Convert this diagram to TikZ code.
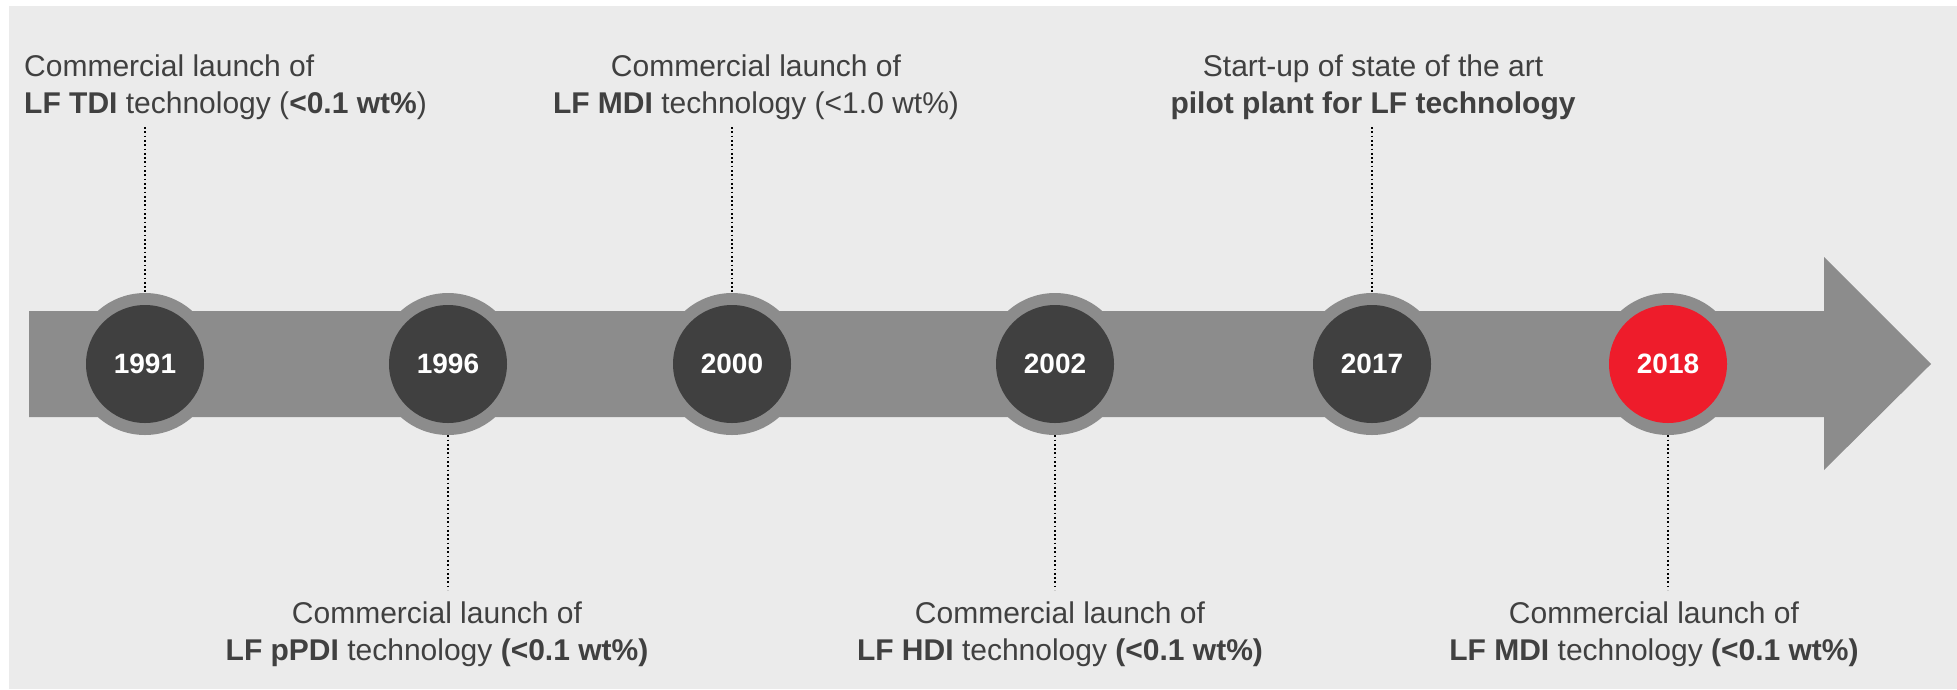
\documentclass[tikz,border=0pt]{standalone}
\usepackage{fontspec}
\setmainfont{Liberation Sans}
\definecolor{bgc}{HTML}{EBEBEB}
\definecolor{barc}{HTML}{8C8C8C}
\definecolor{darkc}{HTML}{404040}
\definecolor{redc}{HTML}{EE1C2B}
\definecolor{txtc}{HTML}{404040}
\begin{document}
\begin{tikzpicture}[x=1pt,y=-1pt,
  ring/.style={circle,fill=barc,minimum size=142pt,inner sep=0pt},
  yearc/.style={circle,fill=darkc,minimum size=118pt,inner sep=0pt,text=white,font=\fontsize{28}{30}\selectfont\bfseries},
  lbl/.style={text=txtc,font=\fontsize{30}{36.5}\selectfont,inner sep=0pt},
  dotline/.style={line width=1.7pt,dash pattern=on 1.7pt off 2.6pt,color=black}
]
\useasboundingbox (0,0) rectangle (1957,689);
\fill[bgc] (9,6) rectangle (1957,689);
% arrow
\fill[barc] (29,311) -- (1824,311) -- (1824,257) -- (1931,364) -- (1824,470) -- (1824,417) -- (29,417) -- cycle;
% circles
\node[ring] (r1) at (145,364) {};
\node[ring] (r2) at (448,364) {};
\node[ring] (r3) at (732,364) {};
\node[ring] (r4) at (1055,364) {};
\node[ring] (r5) at (1372,364) {};
\node[ring] (r6) at (1668,364) {};
\node[yearc] (y1) at (r1) {1991};
\node[yearc] (y2) at (r2) {1996};
\node[yearc] (y3) at (r3) {2000};
\node[yearc] (y4) at (r4) {2002};
\node[yearc] (y5) at (r5) {2017};
\node[yearc,fill=redc] (y6) at (r6) {2018};
% labels (base anchor = baseline of the last line)
\node[lbl,anchor=base west,align=left] (t1) at (24,113) {Commercial launch of\\\textbf{LF TDI} technology (\textbf{<0.1 wt\%})};
\node[lbl,anchor=base,align=center] (t3) at (756,113) {Commercial launch of\\\textbf{LF MDI} technology (<1.0 wt\%)};
\node[lbl,anchor=base,align=center] (t5) at (1373,113) {Start-up of state of the art\\\textbf{pilot plant for LF technology}};
\node[lbl,anchor=base,align=center] (t2) at (437,660) {Commercial launch of\\\textbf{LF pPDI} technology \textbf{(<0.1 wt\%)}};
\node[lbl,anchor=base,align=center] (t4) at (1060,660) {Commercial launch of\\\textbf{LF HDI} technology \textbf{(<0.1 wt\%)}};
\node[lbl,anchor=base,align=center] (t6) at (1654,660) {Commercial launch of\\\textbf{LF MDI} technology \textbf{(<0.1 wt\%)}};
% connectors
\coordinate (c1) at (145,127);
\coordinate (c3) at (732,127);
\coordinate (c5) at (1372,127);
\coordinate (c2) at (448,590);
\coordinate (c4) at (1055,590);
\coordinate (c6) at (1668,590);
\draw[dotline] (c1) -- (r1.north);
\draw[dotline] (c3) -- (r3.north);
\draw[dotline] (c5) -- (r5.north);
\draw[dotline] (r2.south) -- (c2);
\draw[dotline] (r4.south) -- (c4);
\draw[dotline] (r6.south) -- (c6);
\end{tikzpicture}
\end{document}
